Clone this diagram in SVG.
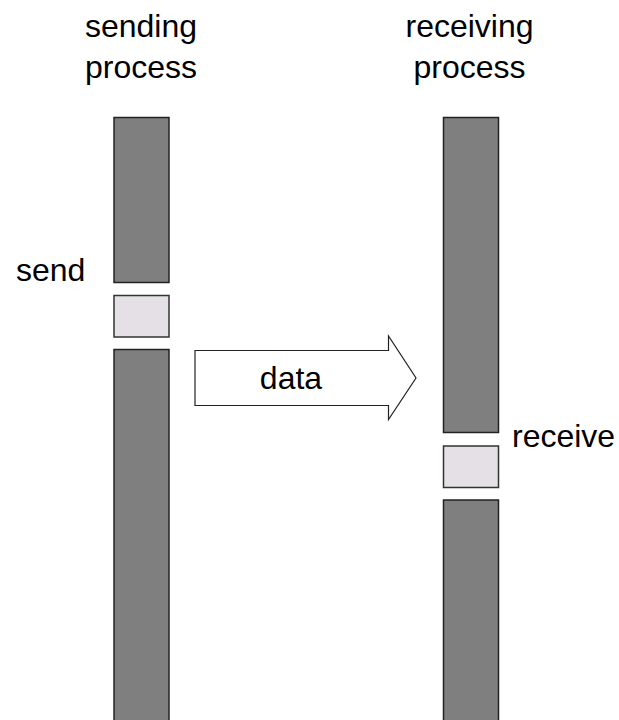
<svg xmlns="http://www.w3.org/2000/svg" width="619" height="720" viewBox="0 0 619 720">
  <style>
    .lbl { font-family: "Liberation Sans", Arial, sans-serif; font-size: 32px; fill: #000; }
    .busy { fill: #7f7f7f; stroke: #222; stroke-width: 1.5; }
    .op { fill: #e4e0e6; stroke: #333; stroke-width: 1.5; }
    .msg { fill: #fff; stroke: #222; stroke-width: 1.2; }
  </style>
  <rect width="619" height="720" fill="#fff"/>

  <!-- sender timeline: busy, send call, busy -->
  <g id="sending-process">
    <text class="lbl" x="141" y="37" text-anchor="middle">sending</text>
    <text class="lbl" x="141" y="78" text-anchor="middle">process</text>
    <rect class="busy" x="114" y="117.5" width="55" height="165"/>
    <rect class="busy" x="114" y="349.5" width="55" height="380"/>
  </g>

  <g id="send-op">
    <rect class="op" x="114" y="295.5" width="55" height="41.5"/>
    <text class="lbl" x="16" y="281">send</text>
  </g>

  <!-- receiver timeline: busy, receive call, busy -->
  <g id="receiving-process">
    <text class="lbl" x="469.5" y="37" text-anchor="middle">receiving</text>
    <text class="lbl" x="469.5" y="78" text-anchor="middle">process</text>
    <rect class="busy" x="443.5" y="117.5" width="55" height="315"/>
    <rect class="busy" x="443.5" y="500" width="55" height="230"/>
  </g>

  <g id="receive-op">
    <rect class="op" x="443.5" y="446" width="55" height="41.5"/>
    <text class="lbl" x="512" y="447">receive</text>
  </g>

  <!-- block arrow carrying the message -->
  <g id="connectors">
    <path class="msg" d="M195,350.5 H388.5 V336 L416,378 L388.5,419.5 V405.5 H195 Z"/>
    <text class="lbl" x="291" y="389" text-anchor="middle">data</text>
  </g>
</svg>
